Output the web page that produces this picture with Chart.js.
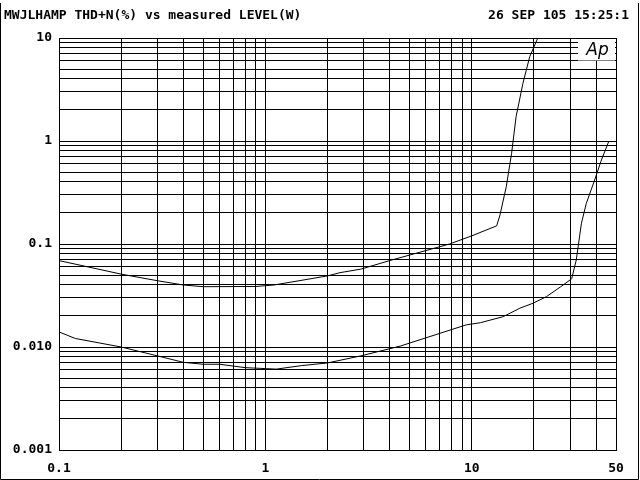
<!DOCTYPE html>
<html>
<head>
<meta charset="utf-8">
<script src="https://cdn.jsdelivr.net/npm/chart.js@4/dist/chart.umd.min.js"></script>
<style>
html,body{margin:0;padding:0;background:#fff;}
canvas{display:block;}
</style>
</head>
<body>
<canvas id="c" width="640" height="480"></canvas>
<script>
// Upper curve: THD+N (%) vs measured level (W)
const levelA = [0.1, 0.2, 0.3, 0.4, 0.5, 0.9, 1.1, 2.0, 2.3, 2.9, 4.0, 7.8, 10, 13.2, 13.7, 14.7, 15.6, 16.4, 17.7, 19.1, 20.9, 21.6];
const thdA   = [0.069, 0.051, 0.044, 0.040, 0.0385, 0.0387, 0.040, 0.049, 0.0527, 0.057, 0.069, 0.100, 0.120, 0.150, 0.191, 0.36, 0.76, 1.72, 3.63, 6.6, 10.0, 11.5];
// Lower curve
const levelB = [0.1, 0.12, 0.2, 0.3, 0.4, 0.5, 0.6, 0.8, 0.95, 1.13, 1.5, 2.0, 2.9, 4.5, 9.4, 11, 14.2, 17.1, 19.8, 23, 27, 30.5, 32.1, 34, 35.9, 39.4, 42.5, 46.2];
const thdB   = [0.0140, 0.0121, 0.0100, 0.0082, 0.0071, 0.0068, 0.0068, 0.0063, 0.0062, 0.0061, 0.0066, 0.0070, 0.0082, 0.0102, 0.0164, 0.0172, 0.0197, 0.0238, 0.0266, 0.0308, 0.0385, 0.046, 0.070, 0.159, 0.248, 0.418, 0.655, 1.0];

const xLabelValues = [0.1, 1, 10, 50];
const xLabelTexts  = ['0.1', '1', '10', '50'];
const yLabelValues = [10, 1, 0.1, 0.01, 0.001];
const yLabelTexts  = ['10', '1', '0.1', '0.010', '0.001'];

const titleLeft  = 'MWJLHAMP THD+N(%) vs measured LEVEL(W)';
const titleRight = '26 SEP 105 15:25:1';

const FONT = "bold 13px 'DejaVu Sans Mono'";

function logTicks(min, max) {
  const out = [];
  for (let e = Math.floor(Math.log10(min)); e <= Math.ceil(Math.log10(max)); e++) {
    for (let m = 1; m <= 9; m++) {
      const v = parseFloat((m * Math.pow(10, e)).toPrecision(6));
      if (v >= min * 0.999 && v <= max * 1.001) out.push(v);
    }
  }
  return out;
}
function labelFor(values, texts, v) {
  for (let i = 0; i < values.length; i++) {
    if (Math.abs(v - values[i]) / values[i] < 1e-6) return texts[i];
  }
  return '';
}

const decor = {
  id: 'decor',
  beforeDraw(chart) {
    const ctx = chart.ctx;
    ctx.save();
    ctx.fillStyle = '#fff';
    ctx.fillRect(0, 0, chart.width, chart.height);
    ctx.restore();
  },
  afterDatasetsDraw(chart) {
    const ctx = chart.ctx;
    const xs = chart.scales.x, ys = chart.scales.y;
    const a = chart.chartArea;
    ctx.save();
    // Ap logo box
    const bx = 578, by = a.top + 1, br = a.right - 1;
    const bb = Math.round(ys.getPixelForValue(6)) - 1;
    ctx.fillStyle = '#fff';
    ctx.fillRect(bx, by, br - bx, bb - by + 0.5);
    ctx.fillStyle = '#000';
    ctx.font = "italic 17px 'DejaVu Sans'";
    ctx.textAlign = 'center';
    ctx.textBaseline = 'middle';
    ctx.fillText('Ap', (bx + br) / 2 + 1, (by + bb) / 2 + 1);
    ctx.restore();
  },
  afterDraw(chart) {
    const ctx = chart.ctx;
    ctx.save();
    ctx.fillStyle = '#000';
    ctx.font = FONT;
    ctx.textBaseline = 'middle';
    ctx.textAlign = 'left';
    ctx.fillText(titleLeft, 4, 16);
    ctx.textAlign = 'right';
    ctx.fillText(titleRight, 629, 16);
    // outer frame
    ctx.strokeStyle = '#000';
    ctx.lineWidth = 1;
    ctx.beginPath();
    ctx.moveTo(0.5, 3);
    ctx.lineTo(0.5, 479.5);
    ctx.lineTo(638.5, 479.5);
    ctx.lineTo(638.5, 3);
    ctx.stroke();
    ctx.restore();
  }
};

new Chart(document.getElementById('c'), {
  type: 'line',
  data: {
    datasets: [
      {
        label: 'A',
        data: levelA.map((x, i) => ({ x: x, y: thdA[i] })),
        borderColor: '#000',
        borderWidth: 1,
        pointRadius: 0,
        tension: 0,
        fill: false
      },
      {
        label: 'B',
        data: levelB.map((x, i) => ({ x: x, y: thdB[i] })),
        borderColor: '#000',
        borderWidth: 1,
        pointRadius: 0,
        tension: 0,
        fill: false
      }
    ]
  },
  options: {
    responsive: false,
    animation: false,
    events: [],
    layout: { padding: { top: 38, right: 24, left: 0, bottom: 0 } },
    plugins: { legend: { display: false }, tooltip: { enabled: false }, title: { display: false } },
    scales: {
      x: {
        type: 'logarithmic',
        min: 0.1,
        max: 50,
        afterBuildTicks(axis) { axis.ticks = logTicks(0.1, 50).map(v => ({ value: v })); },
        afterFit(axis) { axis.height = 30; },
        grid: { color: '#000', lineWidth: 1, drawTicks: false },
        border: { display: true, color: '#000', width: 1 },
        ticks: {
          autoSkip: false,
          maxRotation: 0,
          padding: 11,
          color: '#000',
          font: { family: 'DejaVu Sans Mono', size: 13, weight: 'bold' },
          callback(v) { return labelFor(xLabelValues, xLabelTexts, v); }
        }
      },
      y: {
        type: 'logarithmic',
        min: 0.001,
        max: 10,
        afterBuildTicks(axis) { axis.ticks = logTicks(0.001, 10).map(v => ({ value: v })); },
        afterFit(axis) { axis.width = 59; },
        grid: { color: '#000', lineWidth: 1, drawTicks: false },
        border: { display: true, color: '#000', width: 1 },
        ticks: {
          autoSkip: false,
          padding: 7,
          color: '#000',
          font: { family: 'DejaVu Sans Mono', size: 13, weight: 'bold' },
          callback(v) { return labelFor(yLabelValues, yLabelTexts, v); }
        }
      }
    }
  },
  plugins: [decor]
});
</script>
</body>
</html>
